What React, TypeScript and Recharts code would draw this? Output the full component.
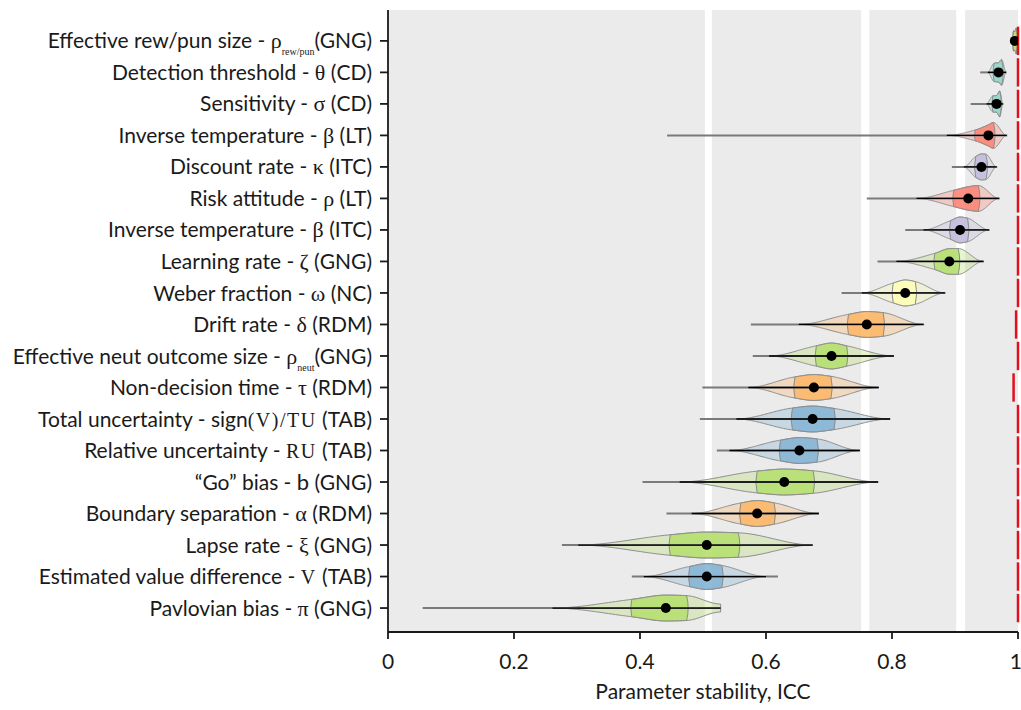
import React from "react";
import {
  ScatterChart,
  Scatter,
  XAxis,
  YAxis,
  ReferenceArea,
  ReferenceLine,
} from "recharts";

// parameters, top row first
const names = [
  "Effective rew/pun size",
  "Detection threshold",
  "Sensitivity",
  "Inverse temperature",
  "Discount rate",
  "Risk attitude",
  "Inverse temperature",
  "Learning rate",
  "Weber fraction",
  "Drift rate",
  "Effective neut outcome size",
  "Non-decision time",
  "Total uncertainty",
  "Relative uncertainty",
  "\u201cGo\u201d bias",
  "Boundary separation",
  "Lapse rate",
  "Estimated value difference",
  "Pavlovian bias",
];
const prefixes = ["", "", "", "", "", "", "", "", "", "", "", "", "sign", "", "", "", "", "", ""];
const symbols = ["ρ", "θ", "σ", "β", "κ", "ρ", "β", "ζ", "ω", "δ", "ρ", "τ", "(V)/TU", "RU", "b", "α", "ξ", "V", "π"];
const symbolFonts = [
  "serif", "serif", "serif", "serif", "serif", "serif", "serif", "serif", "serif", "serif",
  "serif", "serif", "mono", "mono", "sans", "serif", "serif", "mono", "serif",
];
const subscripts = ["rew/pun", "", "", "", "", "", "", "", "", "", "neut", "", "", "", "", "", "", "", ""];
const tasks = ["GNG", "CD", "CD", "LT", "ITC", "LT", "ITC", "GNG", "NC", "RDM", "GNG", "RDM", "TAB", "TAB", "GNG", "RDM", "GNG", "TAB", "GNG"];

// ICC distribution summaries per parameter
const iccMin = [0.988, 0.94, 0.925, 0.443, 0.895, 0.76, 0.821, 0.777, 0.72, 0.576, 0.579, 0.499, 0.495, 0.522, 0.404, 0.442, 0.276, 0.387, 0.055];
const iccLow = [0.99, 0.952, 0.95, 0.887, 0.914, 0.839, 0.85, 0.807, 0.752, 0.652, 0.605, 0.572, 0.553, 0.542, 0.463, 0.482, 0.302, 0.406, 0.261];
const iccQ1 = [0.993, 0.962, 0.96, 0.932, 0.933, 0.898, 0.893, 0.868, 0.802, 0.731, 0.68, 0.646, 0.642, 0.623, 0.586, 0.56, 0.448, 0.479, 0.387];
const iccMedian = [0.995, 0.969, 0.966, 0.953, 0.942, 0.921, 0.908, 0.891, 0.821, 0.76, 0.704, 0.676, 0.674, 0.653, 0.629, 0.586, 0.506, 0.506, 0.441];
const iccQ3 = [0.997, 0.974, 0.971, 0.961, 0.949, 0.937, 0.92, 0.905, 0.837, 0.786, 0.728, 0.703, 0.708, 0.681, 0.675, 0.613, 0.556, 0.53, 0.474];
const iccHigh = [0.999, 0.981, 0.976, 0.982, 0.966, 0.97, 0.954, 0.945, 0.884, 0.85, 0.803, 0.779, 0.797, 0.749, 0.778, 0.684, 0.674, 0.6, 0.528];
const iccMax = [1.0, 0.982, 0.977, 0.983, 0.967, 0.971, 0.955, 0.946, 0.885, 0.851, 0.803, 0.779, 0.797, 0.749, 0.778, 0.684, 0.674, 0.619, 0.528];
// density still high at the upper bound (violin is cut flat)
const cutAtMax = [false, false, false, false, false, false, false, false, false, false, false, false, false, false, false, false, false, false, true];
// upper reliability bound per parameter
const ceiling = [1, 1, 1, 1, 1, 1, 1, 1, 1, 0.997, 1, 0.993, 1, 1, 1, 1, 1, 1, 1];

const xTicks = [0, 0.2, 0.4, 0.6, 0.8, 1];
const bandStarts = [0, 0.514, 0.764, 0.916];
const bandEnds = [0.503, 0.751, 0.902, 1];

const taskColors: Record<string, string> = {
  CD: "#8dd3c7",
  NC: "#ffffb3",
  ITC: "#bebada",
  LT: "#fb8072",
  TAB: "#80b1d3",
  RDM: "#fdb462",
  GNG: "#b3de69",
};

const rows = names.map((_, i) => i);
const dots = iccMedian.map((v, i) => ({ icc: v, row: i }));

const SANS = "Lato, 'Open Sans', sans-serif";
const SERIF = "'Liberation Serif', 'DejaVu Serif', serif";
const INK = "#1a1a1a";
const OUTLINE = "#8c8c8c";

// monotone cubic through the knots, flat at both ends
function smoothProfile(xs: number[], ys: number[]) {
  const n = xs.length;
  const h: number[] = [];
  const s: number[] = [];
  for (let k = 0; k < n - 1; k++) {
    h[k] = Math.max(xs[k + 1] - xs[k], 1e-6);
    s[k] = (ys[k + 1] - ys[k]) / h[k];
  }
  const m = new Array(n).fill(0);
  for (let k = 1; k < n - 1; k++) {
    if (s[k - 1] * s[k] > 0) {
      m[k] = (3 * (h[k - 1] + h[k])) / ((2 * h[k] + h[k - 1]) / s[k - 1] + (h[k] + 2 * h[k - 1]) / s[k]);
    }
  }
  return (t: number) => {
    let k = 0;
    while (k < n - 2 && t > xs[k + 1]) k++;
    const u = Math.min(Math.max((t - xs[k]) / h[k], 0), 1);
    const u2 = u * u;
    const u3 = u2 * u;
    return (
      (2 * u3 - 3 * u2 + 1) * ys[k] +
      (u3 - 2 * u2 + u) * h[k] * m[k] +
      (-2 * u3 + 3 * u2) * ys[k + 1] +
      (u3 - u2) * h[k] * m[k + 1]
    );
  };
}

// relative violin width along the ICC axis, from the quantiles
function violinWidth(i: number) {
  const knots = [iccLow[i], iccQ1[i], iccMedian[i], iccQ3[i], iccHigh[i]];
  const mass = [0.225, 0.25, 0.25, 0.225];
  const d = mass.map((mm, k) => mm / Math.max(knots[k + 1] - knots[k], 1e-4));
  const cut = cutAtMax[i];
  const w = [
    0,
    (2 * d[0] + d[1]) / 2,
    (d[1] + d[2]) / 2,
    (d[2] + (cut ? d[3] : 2 * d[3])) / 2,
    cut ? d[3] * 0.45 : 0,
  ];
  const peak = Math.max(...w);
  return smoothProfile(knots, w.map((v) => v / peak));
}

function samples(a: number, b: number, n: number) {
  const out: number[] = [];
  for (let k = 0; k <= n; k++) out.push(a + ((b - a) * k) / n);
  return out;
}

function Violin(props: any) {
  const { x, y, width, height, row } = props;
  const i = row as number;
  const px = (v: number) => x + v * width;
  const cy = y + height / 2;
  const half = height * 0.41;
  const color = taskColors[tasks[i]];
  const fn = violinWidth(i);
  const pt = (v: number, sign: number) => `${px(v).toFixed(2)},${(cy + sign * fn(v) * half).toFixed(2)}`;

  const all = samples(iccLow[i], iccHigh[i], 120);
  const body = `M${all.map((v) => pt(v, -1)).join("L")}L${all.slice().reverse().map((v) => pt(v, 1)).join("L")}Z`;

  const mid = samples(iccQ1[i], iccQ3[i], 40);
  const bulge1 = Math.min(4, fn(iccQ1[i]) * half * 0.25);
  const bulge3 = Math.min(4, fn(iccQ3[i]) * half * 0.25);
  const midTop = mid.map((v) => pt(v, -1));
  const midBottom = mid.slice().reverse().map((v) => pt(v, 1));
  const box =
    `M${midTop.join("L")}` +
    `Q${(px(iccQ3[i]) + bulge3).toFixed(2)},${cy.toFixed(2)} ${midBottom[0]}` +
    `L${midBottom.join("L")}` +
    `Q${(px(iccQ1[i]) - bulge1).toFixed(2)},${cy.toFixed(2)} ${midTop[0]}Z`;

  return (
    <g>
      <path d={body} fill={color} fillOpacity={0.32} stroke={OUTLINE} strokeWidth={1} strokeLinejoin="round" />
      <path d={box} fill={color} fillOpacity={0.82} stroke={OUTLINE} strokeWidth={1} strokeLinejoin="round" />
      <line x1={px(iccMin[i])} x2={px(iccMax[i])} y1={cy} y2={cy} stroke="#7a7a7a" strokeWidth={2} />
      <line x1={px(iccLow[i])} x2={px(iccHigh[i])} y1={cy} y2={cy} stroke="#000" strokeWidth={1.3} />
    </g>
  );
}

function RowLabel(props: any) {
  const { x, y, payload } = props;
  const i = payload.value as number;
  const kind = symbolFonts[i];
  const sub = subscripts[i];
  return (
    <text x={x} y={y} dy="0.36em" textAnchor="end" fontFamily={SANS} fontSize={21} fill={INK} style={{ whiteSpace: "pre" }}>
      <tspan>{`${names[i]} - ${prefixes[i]}`}</tspan>
      <tspan
        fontFamily={kind === "sans" ? SANS : SERIF}
        fontSize={kind === "mono" ? 20 : 22}
        letterSpacing={kind === "mono" ? 1.5 : 0}
      >
        {symbols[i]}
      </tspan>
      {sub ? (
        <tspan fontFamily={SERIF} fontSize={10} dy={7}>{sub}</tspan>
      ) : null}
      <tspan dy={sub ? -7 : 0}>{`${sub ? "" : " "}(${tasks[i]})`}</tspan>
    </text>
  );
}

const formatTick = (v: number) => (v === 0 || v === 1 ? String(v) : v.toFixed(1));

export default function App() {
  return (
    <div style={{ position: "absolute", left: 0, top: 0 }}>
      <ScatterChart width={1021} height={710} margin={{ top: 10, right: 3, bottom: 0, left: 0 }}>
        {bandStarts.map((b, k) => (
          <ReferenceArea
            key={`band-${k}`}
            x1={b}
            x2={bandEnds[k]}
            y1={-0.98}
            y2={18.76}
            fill="#ebebeb"
            fillOpacity={1}
            stroke="none"
          />
        ))}
        <XAxis
          type="number"
          dataKey="icc"
          domain={[0, 1]}
          ticks={xTicks}
          tickFormatter={formatTick}
          allowDataOverflow
          height={78}
          tickSize={7}
          tickMargin={15}
          stroke={INK}
          strokeWidth={1.8}
          tick={{ fill: INK, fontSize: 21, fontFamily: SANS }}
          label={{
            value: "Parameter stability, ICC",
            position: "insideBottom",
            offset: 11,
            fill: INK,
            fontSize: 21,
            fontFamily: SANS,
          }}
        />
        <YAxis
          type="number"
          dataKey="row"
          domain={[-0.98, 18.76]}
          reversed
          allowDataOverflow
          ticks={rows}
          interval={0}
          width={388}
          tickSize={8}
          tickMargin={8}
          stroke={INK}
          strokeWidth={1.8}
          tick={<RowLabel />}
        />
        {rows.map((i) => (
          <ReferenceArea
            key={`violin-${i}`}
            x1={0}
            x2={1}
            y1={i - 0.5}
            y2={i + 0.5}
            shape={(p: any) => <Violin {...p} row={i} />}
          />
        ))}
        {rows.map((i) => (
          <ReferenceLine
            key={`ceil-${i}`}
            segment={[
              { x: ceiling[i], y: i - 0.45 },
              { x: ceiling[i], y: i + 0.45 },
            ]}
            stroke="#e3101c"
            strokeWidth={2.5}
          />
        ))}
        <Scatter
          data={dots}
          isAnimationActive={false}
          shape={(p: any) => <circle cx={p.cx} cy={p.cy} r={5} fill="#000" />}
        />
      </ScatterChart>
    </div>
  );
}
